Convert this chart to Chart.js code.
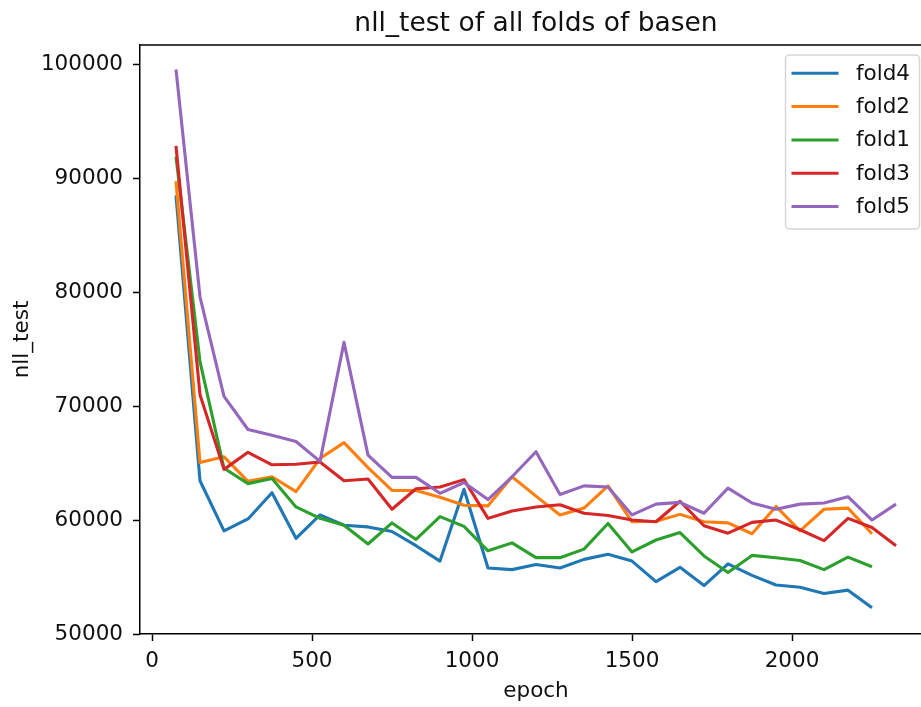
<!DOCTYPE html>
<html>
<head>
<meta charset="utf-8">
<script src="https://cdn.jsdelivr.net/npm/chart.js@4.4.1/dist/chart.umd.min.js"></script>
<style>
    html, body { margin: 0; padding: 0; overflow: hidden; background: #fff; }
    #wrap { width: 932px; height: 707px; }
</style>
</head>
<body>
<div id="wrap"><canvas id="nllChart" width="932" height="707"></canvas></div>
<script>
const epochs = [75, 150, 225, 300, 375, 450, 525, 600, 675, 750, 825, 900, 975, 1050, 1125, 1200,
    1275, 1350, 1425, 1500, 1575, 1650, 1725, 1800, 1875, 1950, 2025, 2100, 2175, 2250, 2325];

const fold4 = [88500, 63450, 59050, 60100, 62400, 58400, 60450, 59550, 59400, 59000, 57750, 56400, 62700, 55800, 55650,
    56100, 55800, 56550, 57000, 56400, 54600, 55850, 54250, 56150, 55150, 54300, 54100, 53550, 53850, 52300];
const fold2 = [89750, 65050, 65550, 63400, 63800, 62500, 65400, 66800, 64600, 62600, 62600, 62000, 61300, 61250, 63800,
    62100, 60450, 61050, 63000, 59850, 59900, 60500, 59850, 59750, 58800, 61200, 59050, 60950, 61050, 58800];
const fold1 = [91900, 73900, 64550, 63200, 63650, 61150, 60150, 59550, 57900, 59750, 58300, 60300, 59450, 57300, 58000,
    56700, 56700, 57450, 59700, 57200, 58250, 58900, 56850, 55400, 56900, 56700, 56450, 55650, 56750, 55900];
const fold3 = [92850, 71000, 64450, 65950, 64850, 64900, 65100, 63450, 63600, 60950, 62750, 62900, 63550, 60150, 60800,
    61150, 61350, 60600, 60400, 60000, 59850, 61650, 59500, 58850, 59800, 60000, 59150, 58200, 60150, 59350, 57750];
const fold5 = [99550, 79600, 70850, 67950, 67450, 66900, 65150, 75600, 65700, 63750, 63750, 62350, 63300, 61800, 63800,
    66000, 62250, 63000, 62900, 60450, 61400, 61550, 60600, 62800, 61500, 60950, 61400, 61500, 62050, 60000, 61400];

const foldNames = ['fold4', 'fold2', 'fold1', 'fold3', 'fold5'];
const foldColors = ['#1f77b4', '#ff7f0e', '#2ca02c', '#d62728', '#9467bd'];
const xTicks = [0, 500, 1000, 1500, 2000];
const yTicks = [50000, 60000, 70000, 80000, 90000, 100000];

const FONT = "'DejaVu Sans', sans-serif";
const series = [fold4, fold2, fold1, fold3, fold5];

// top spine + matplotlib style legend box
const frameAndLegend = {
    id: 'frameAndLegend',
    afterDraw(chart) {
        const { ctx, chartArea: a } = chart;
        ctx.save();
        ctx.strokeStyle = '#000';
        ctx.lineWidth = 1.5;
        ctx.beginPath();
        ctx.moveTo(a.left, a.top);
        ctx.lineTo(a.right, a.top);
        ctx.lineTo(a.right, a.bottom);
        ctx.stroke();

        const w = 134, h = 174, r = 4;
        const left = a.right - 12.5 - w, top = a.top + 10;
        ctx.beginPath();
        ctx.moveTo(left + r, top);
        ctx.arcTo(left + w, top, left + w, top + h, r);
        ctx.arcTo(left + w, top + h, left, top + h, r);
        ctx.arcTo(left, top + h, left, top, r);
        ctx.arcTo(left, top, left + w, top, r);
        ctx.closePath();
        ctx.fillStyle = 'rgba(255,255,255,0.8)';
        ctx.fill();
        ctx.strokeStyle = '#d6d6d6';
        ctx.lineWidth = 1.5;
        ctx.stroke();

        ctx.font = '21.5px ' + FONT;
        ctx.textBaseline = 'middle';
        ctx.textAlign = 'left';
        chart.data.datasets.forEach((ds, i) => {
            const y = top + 18.3 + 33.3 * i;
            ctx.strokeStyle = ds.borderColor;
            ctx.lineWidth = 3;
            ctx.beginPath();
            ctx.moveTo(left + 6, y);
            ctx.lineTo(left + 53, y);
            ctx.stroke();
            ctx.fillStyle = '#111';
            ctx.fillText(ds.label, left + 70.5, y + 1);
        });
        ctx.restore();
    }
};

document.addEventListener('DOMContentLoaded', () => {
    const ctx = document.getElementById('nllChart').getContext('2d');
    new Chart(ctx, {
        type: 'line',
        data: {
            datasets: series.map((vals, i) => ({
                label: foldNames[i],
                data: vals.map((v, j) => ({ x: epochs[j], y: v })),
                borderColor: foldColors[i],
                backgroundColor: foldColors[i],
                borderWidth: 3.1,
                pointRadius: 0,
                tension: 0,
                fill: false,
                borderJoinStyle: 'round',
                order: series.length - i
            }))
        },
        options: {
            responsive: false,
            animation: false,
            layout: { padding: 0 },
            plugins: {
                legend: { display: false },
                tooltip: { enabled: false },
                title: {
                    display: true,
                    text: 'nll_test of all folds of basen',
                    fullSize: false,
                    color: '#111',
                    font: { family: FONT, size: 26.5, weight: 'normal' },
                    padding: { top: 8.6, bottom: 4.6 }
                }
            },
            scales: {
                x: {
                    type: 'linear',
                    min: -37.5,
                    max: 2437.5,
                    afterBuildTicks: s => { s.ticks = xTicks.map(v => ({ value: v })); },
                    afterFit: s => { s.height = 73; },
                    grid: { drawOnChartArea: false, drawTicks: true, tickLength: 7, tickWidth: 1.5, tickColor: '#000' },
                    border: { display: true, color: '#000', width: 1.5 },
                    ticks: {
                        color: '#111',
                        font: { family: FONT, size: 21.5 },
                        padding: 8,
                        maxRotation: 0,
                        autoSkip: false,
                        callback: v => String(v)
                    },
                    title: {
                        display: true,
                        text: 'epoch',
                        color: '#111',
                        font: { family: FONT, size: 21.5 },
                        padding: { top: 0, bottom: 3 }
                    }
                },
                y: {
                    min: 50000,
                    max: 101700,
                    afterBuildTicks: s => { s.ticks = yTicks.map(v => ({ value: v })); },
                    afterFit: s => { s.width = 140; },
                    grid: { drawOnChartArea: false, drawTicks: true, tickLength: 7, tickWidth: 1.5, tickColor: '#000' },
                    border: { display: true, color: '#000', width: 1.5 },
                    ticks: {
                        color: '#111',
                        font: { family: FONT, size: 21.5 },
                        padding: 10,
                        autoSkip: false,
                        callback: v => String(v)
                    },
                    title: {
                        display: true,
                        text: 'nll_test',
                        color: '#111',
                        font: { family: FONT, size: 21.5 },
                        padding: { top: 10, bottom: 0 }
                    }
                }
            }
        },
        plugins: [frameAndLegend]
    });
});
</script>
</body>
</html>
